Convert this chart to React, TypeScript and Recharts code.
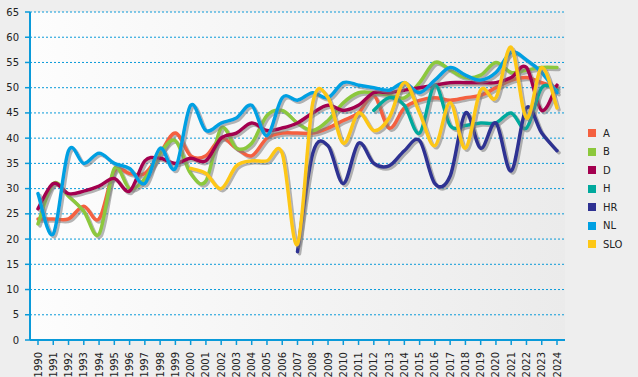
import React from 'react';
import { LineChart, Line, XAxis, YAxis, CartesianGrid } from 'recharts';

const years = ['1990','1991','1992','1993','1994','1995','1996','1997','1998','1999','2000','2001','2002','2003','2004','2005','2006','2007','2008','2009','2010','2011','2012','2013','2014','2015','2016','2017','2018','2019','2020','2021','2022','2023','2024'];

const seriesA = [24,24,24,26.5,24,33.5,33,33,37,41,36.5,36.5,40,38,36.5,40,41,41,41,42,43.5,45,48.5,42,46,47.5,48,47.5,48,48.5,50,51.5,52,51,50];
const seriesB = [23,31,28.5,25.5,21,34,30,32,37,39.5,33,31.5,42,38,39,44.5,45.5,43,41.5,43.5,47,49,49,48.5,48,51,55,53.5,52,52.5,55,53,53.5,54,54];
const seriesD = [26,31,29,29.5,30.5,32,29.5,35.5,36,35,36,35.5,40,41,43,41.5,42,43,45,46.5,45.5,46.5,49,49,49.5,50,50.5,51,51,51,51,52,54,45.5,50.5];
const seriesH = [null,null,null,null,null,null,null,null,null,null,null,null,null,null,null,null,null,null,null,null,null,null,45.5,48,46.5,41,50.5,42.5,42.5,43,43,45,42,50,49.5];
const seriesHR = [null,null,null,null,null,null,null,null,null,null,null,null,null,null,null,null,null,17.5,37,38.5,31,39,35,34.5,37.5,39.5,31,32.5,45,38,43,33.5,46,41,37.5];
const seriesNL = [29,21,37.5,35,37,35,34,31,38,34,46.5,41.5,43,44,46.5,40.5,48,47.5,49,48,51,50.5,50,49.5,51,49,51.5,54,52.5,51.5,53,57,55.5,53,49];
const seriesSLO = [null,null,null,null,null,null,null,null,null,null,34,33,30,34.5,35.5,35.5,37,19,47,48,39,45,41.5,44,51,45,38.5,47,38,49.5,48,58,44,54,46];

const seriesNames = ['A','B','D','H','HR','NL','SLO'];
const seriesValues = [seriesA, seriesB, seriesD, seriesH, seriesHR, seriesNL, seriesSLO];
const seriesColors = ['#f4603f','#8cc83c','#a3004f','#00a99d','#2e3192','#00a0e2','#fdc716'];
const yTicks = [0,5,10,15,20,25,30,35,40,45,50,55,60,65];

const data = years.map((year, i) => {
  const row: any = { year };
  seriesNames.forEach((n, s) => { row[n] = seriesValues[s][i]; });
  return row;
});

const catmullRom = (ctx: any) => {
  let pts: number[][] = [];
  return {
    areaStart() {},
    areaEnd() {},
    lineStart() { pts = []; },
    point(x: number, y: number) { pts.push([+x, +y]); },
    lineEnd() {
      const n = pts.length;
      if (n === 0) return;
      ctx.moveTo(pts[0][0], pts[0][1]);
      const k = 1 / 6;
      for (let i = 0; i < n - 1; i++) {
        const p0 = pts[i - 1] || pts[i];
        const p1 = pts[i];
        const p2 = pts[i + 1];
        const p3 = pts[i + 2] || p2;
        ctx.bezierCurveTo(
          p1[0] + (p2[0] - p0[0]) * k, p1[1] + (p2[1] - p0[1]) * k,
          p2[0] - (p3[0] - p1[0]) * k, p2[1] - (p3[1] - p1[1]) * k,
          p2[0], p2[1]
        );
      }
    },
  };
};

const AXIS = '#0a9ad9';
const FONT = '"DejaVu Sans", Verdana, sans-serif';

const XTick = (props: any) => {
  const { x, y, payload } = props;
  const cy = y + 5;
  return (
    <text x={x} y={cy} transform={`rotate(-90, ${x}, ${cy})`} textAnchor="end" dominantBaseline="central"
      fontSize={10} fontFamily={FONT} fill="#222">{payload.value}</text>
  );
};

export default function App() {
  return (
    <div style={{ position: 'absolute', left: 0, top: 0, width: 638, height: 377, background: '#eeeeee', overflow: 'hidden' }}>
      <LineChart width={638} height={377} data={data} margin={{ top: 12, right: 73, bottom: 0, left: 0 }}>
        <defs>
          <linearGradient id="bgGrad" x1="0" y1="0" x2="1" y2="0">
            <stop offset="0%" stopColor="#fdfdfd" />
            <stop offset="100%" stopColor="#ebebeb" />
          </linearGradient>
          <filter id="lineShadow" x="-10%" y="-10%" width="120%" height="130%">
            <feDropShadow dx="2" dy="2" stdDeviation="0.6" floodColor="#7a7a7a" floodOpacity="0.55" />
          </filter>
        </defs>
        <CartesianGrid vertical={false} stroke={AXIS} strokeDasharray="2 2" fill="url(#bgGrad)" fillOpacity={1} />
        <XAxis dataKey="year" interval={0} height={37} tickSize={5} padding={{ left: 8, right: 8 }}
          axisLine={{ stroke: AXIS, strokeWidth: 2 }} tickLine={{ stroke: AXIS, strokeWidth: 1.5 }} tick={<XTick />} />
        <YAxis domain={[0, 65]} ticks={yTicks} interval={0} width={30} tickSize={5} tickMargin={6}
          axisLine={{ stroke: AXIS, strokeWidth: 2 }} tickLine={{ stroke: AXIS, strokeWidth: 1.5 }}
          tick={{ fontSize: 10, fontFamily: FONT, fill: '#222' }} />
        {seriesNames.map((n, s) => (
          <Line key={n} dataKey={n} type={catmullRom as any} stroke={seriesColors[s]} strokeWidth={3.5}
            dot={false} activeDot={false} isAnimationActive={false} strokeLinecap="round" strokeLinejoin="round"
            filter="url(#lineShadow)" />
        ))}
      </LineChart>
      <div style={{ position: 'absolute', left: 588, top: 124, fontFamily: FONT, fontSize: 10, color: '#222' }}>
        {seriesNames.map((n, s) => (
          <div key={n} style={{ height: 18.5, display: 'flex', alignItems: 'center' }}>
            <div style={{ width: 8, height: 8, background: seriesColors[s], marginRight: 7 }} />
            <span>{n}</span>
          </div>
        ))}
      </div>
    </div>
  );
}
